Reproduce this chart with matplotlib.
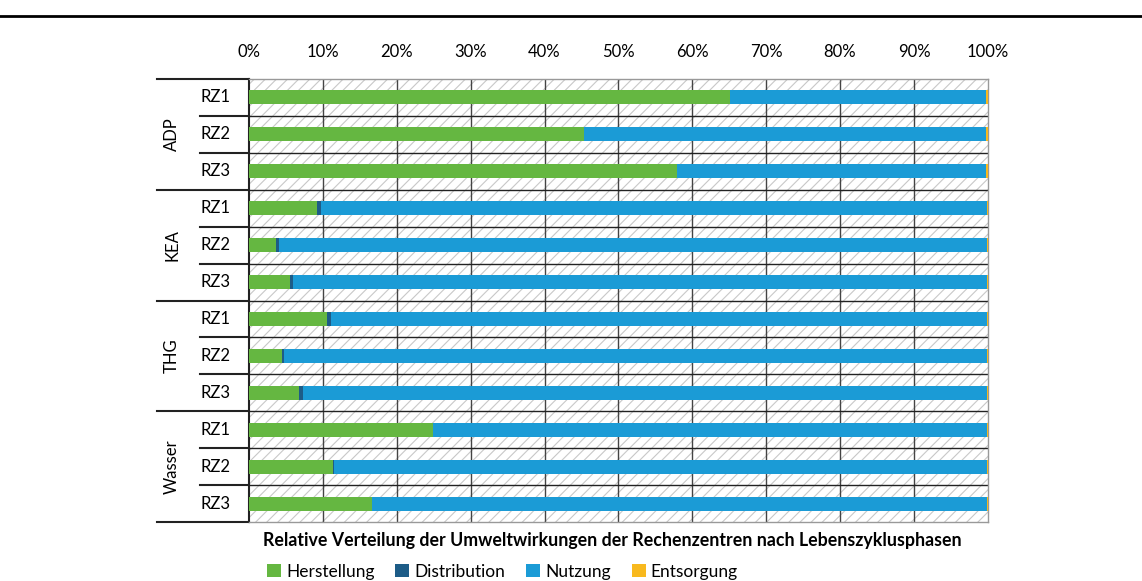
import numpy as np
import matplotlib.pyplot as plt
from matplotlib.patches import Rectangle
import matplotlib.transforms as mtransforms

plt.rcParams['font.family'] = ['Lato', 'DejaVu Sans']
plt.rcParams['hatch.linewidth'] = 0.8

# Daten (Anteile in %)
gruppen = ['ADP', 'KEA', 'THG', 'Wasser']
rz = ['RZ1', 'RZ2', 'RZ3']
herstellung = [65.1, 45.3, 57.9, 9.2, 3.7, 5.5, 10.5, 4.5, 6.8, 24.9, 11.4, 16.6]
distribution = [0.05, 0.05, 0.05, 0.6, 0.35, 0.4, 0.6, 0.25, 0.45, 0.05, 0.05, 0.05]
entsorgung = [0.3, 0.3, 0.2, 0.05, 0.05, 0.05, 0.05, 0.05, 0.05, 0.05, 0.05, 0.05]
nutzung = [100 - h - d - e for h, d, e in zip(herstellung, distribution, entsorgung)]

farben = {'Herstellung': '#65b741', 'Distribution': '#1d5c87',
          'Nutzung': '#1b9bd6', 'Entsorgung': '#f8b91e'}

fig = plt.figure(figsize=(11.42, 5.81), dpi=100)
ax = fig.add_axes([0.218, 0.1015, 0.647, 0.7625])

n = len(herstellung)
y = np.arange(n)

# schraffierter Hintergrund
ax.add_patch(Rectangle((0, -0.5), 100, n, facecolor='white', edgecolor='#c8c8c8',
                       linewidth=0, hatch='///', zorder=0))

links = np.zeros(n)
for name, werte in [('Herstellung', herstellung), ('Distribution', distribution),
                    ('Nutzung', nutzung), ('Entsorgung', entsorgung)]:
    ax.barh(y, werte, left=links, height=0.38, color=farben[name], label=name, zorder=3)
    links += np.array(werte)

ax.set_xlim(0, 100)
ax.set_ylim(n - 0.5, -0.5)
ax.set_xticks(np.arange(0, 101, 10))
ax.set_xticklabels([f'{v}%' for v in range(0, 101, 10)], fontsize=12)
ax.xaxis.tick_top()
ax.tick_params(axis='x', length=0, pad=14)
ax.set_yticks([])
for v in range(10, 100, 10):
    ax.axvline(v, color='#444444', lw=1.0, zorder=1)
for b in np.arange(0.5, n - 0.5, 1):
    ax.axhline(b, color='#222222', lw=1.0, zorder=1)

for s in ['top', 'right', 'bottom']:
    ax.spines[s].set_color('#999999')
    ax.spines[s].set_linewidth(1.0)
ax.spines['left'].set_color('#222222')
ax.spines['left'].set_linewidth(1.5)

# Kategorienbeschriftung links
trans = mtransforms.blended_transform_factory(ax.transAxes, ax.transData)
for i in range(n):
    ax.text(-0.045, i, rz[i % 3], transform=trans, ha='center', va='center', fontsize=12)
for g, name in enumerate(gruppen):
    ax.text(-0.104, g * 3 + 1, name, transform=trans, ha='center', va='center',
            rotation=90, fontsize=12)
for b in np.arange(-0.5, n, 1):
    x0 = -0.1245 if (b + 0.5) % 3 == 0 else -0.0663
    ax.plot([x0, 0], [b, b], transform=trans, color='#222222', lw=1.5, clip_on=False)

fig.text(0.536, 0.07, 'Relative Verteilung der Umweltwirkungen der Rechenzentren nach Lebenszyklusphasen',
         ha='center', va='center', fontsize=12.8, fontweight='bold')

fig.legend(loc='center', bbox_to_anchor=(0.44, 0.016), ncol=4, frameon=False,
           fontsize=12.5, handlelength=0.8, handleheight=0.8, handletextpad=0.3,
           columnspacing=1.2)

# Linie oben
fig.add_artist(plt.Line2D([0, 1], [0.972, 0.972], transform=fig.transFigure,
                          color='black', lw=2))

fig.savefig('out.png', dpi=100)
